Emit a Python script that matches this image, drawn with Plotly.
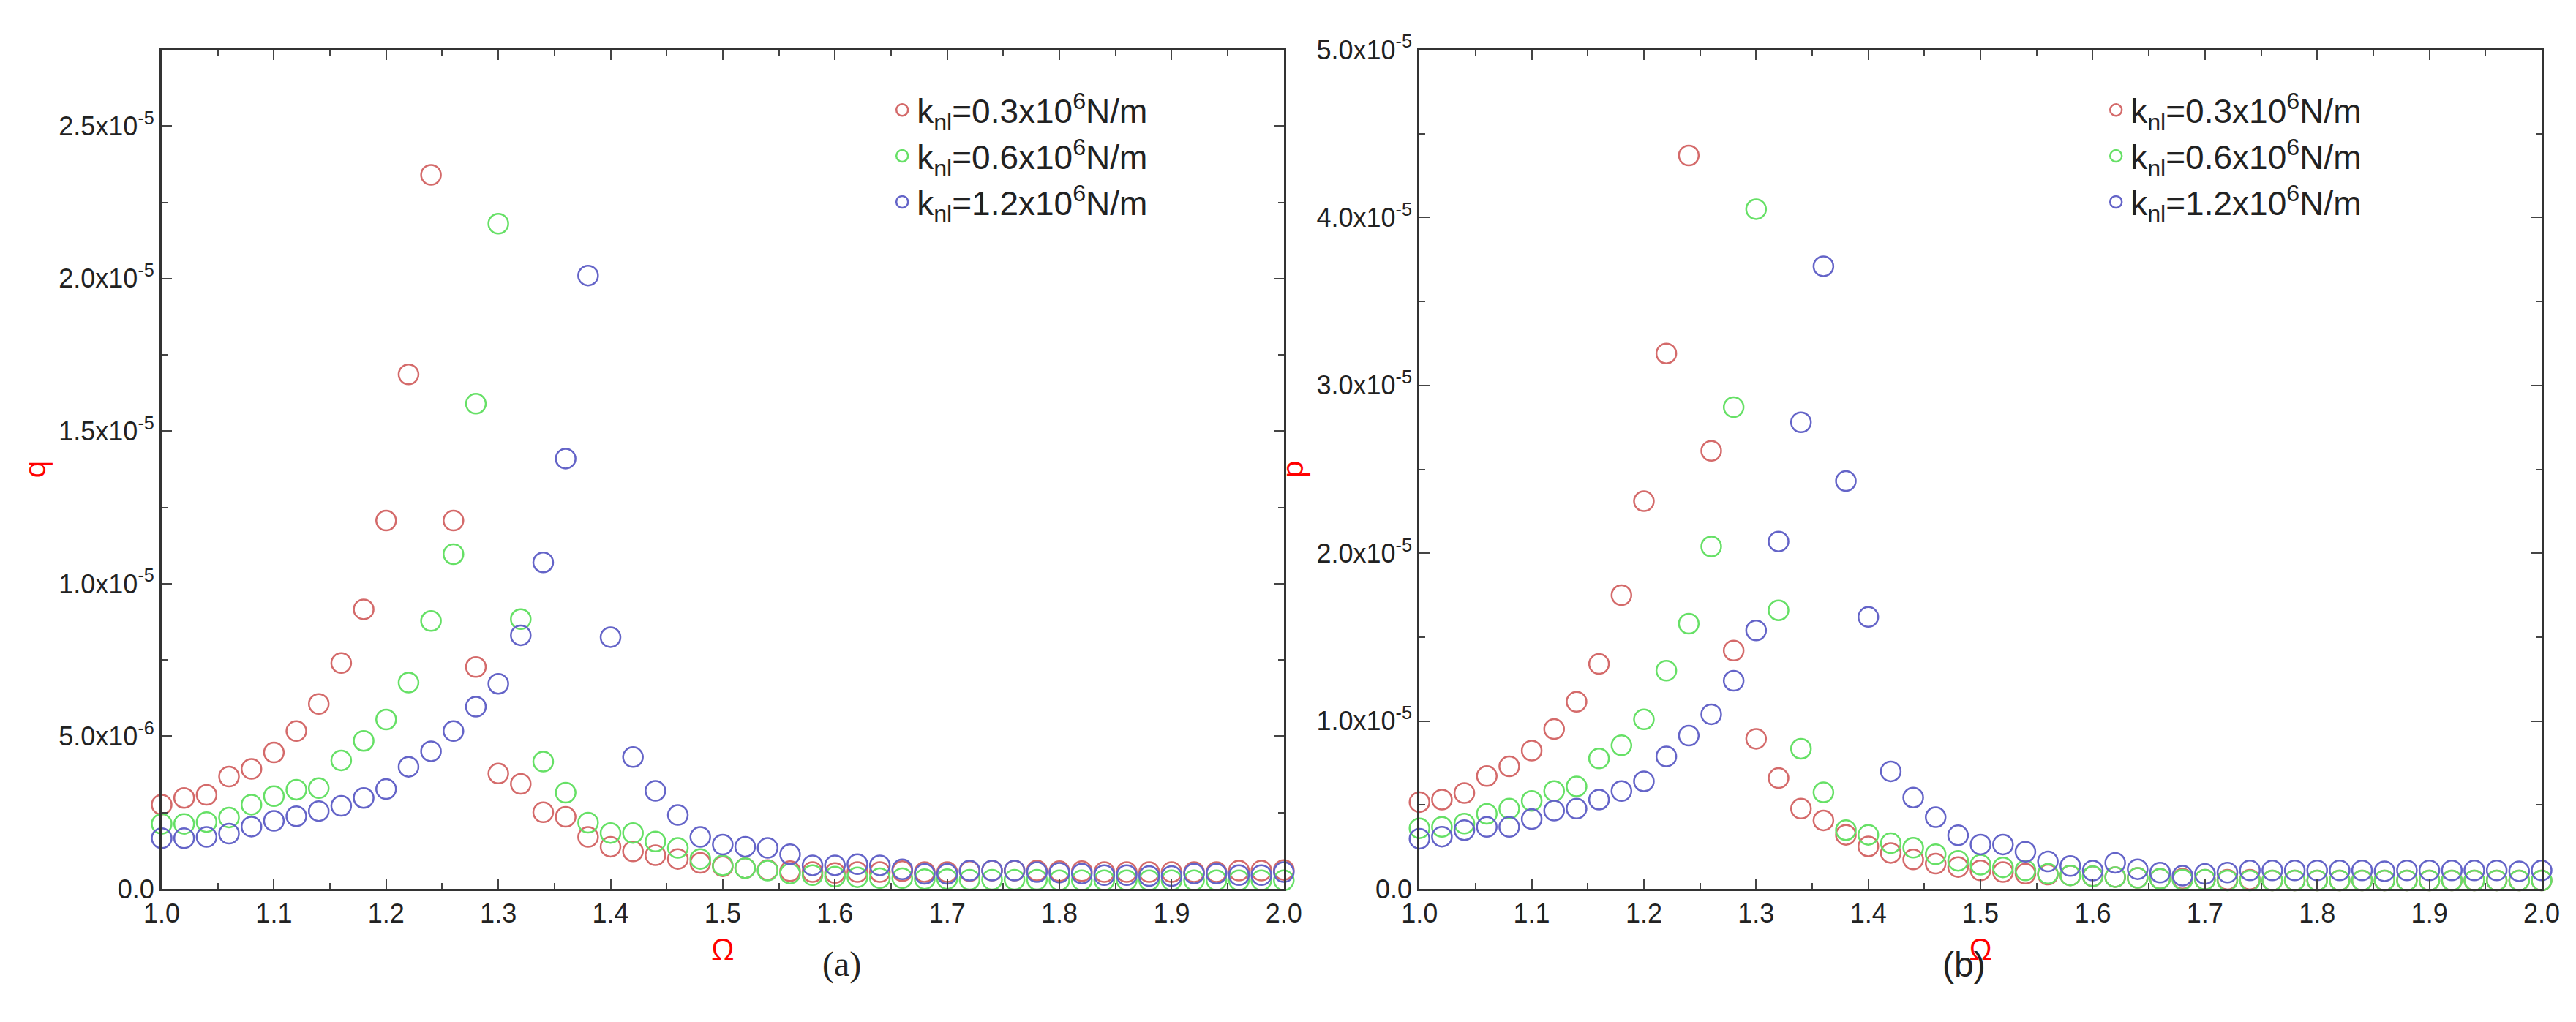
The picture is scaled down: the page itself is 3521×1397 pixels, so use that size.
import plotly.graph_objects as go
from plotly.subplots import make_subplots

omega = [round(1.0 + 0.02 * i, 2) for i in range(51)]

# panel (a): q, units 1e-6
q_red = [2.76, 2.98, 3.08, 3.68, 3.93, 4.47, 5.17, 6.06, 7.40, 9.16, 12.07, 16.86, 23.4, 12.07, 7.27,
         3.78, 3.44, 2.51, 2.36, 1.70, 1.38, 1.23, 1.10, 0.98, 0.85, 0.74, 0.68, 0.62, 0.58, 0.55,
         0.52, 0.55, 0.55, 0.58, 0.55, 0.55, 0.58, 0.6, 0.6, 0.6, 0.58, 0.58, 0.55, 0.55, 0.55, 0.55,
         0.55, 0.55, 0.6, 0.6, 0.62]
q_green = [2.13, 2.13, 2.19, 2.34, 2.76, 3.04, 3.25, 3.30, 4.21, 4.85, 5.55, 6.76, 8.78, 10.97, 15.9,
           21.8, 8.84, 4.17, 3.15, 2.17, 1.83, 1.83, 1.55, 1.34, 0.98, 0.77, 0.68, 0.6, 0.5, 0.45,
           0.4, 0.38, 0.35, 0.35, 0.32, 0.32, 0.3, 0.3, 0.3, 0.3, 0.28, 0.28, 0.28, 0.28, 0.28, 0.28,
           0.28, 0.28, 0.28, 0.28, 0.28]
q_blue = [1.66, 1.66, 1.70, 1.81, 2.04, 2.23, 2.38, 2.55, 2.72, 2.98, 3.27, 4.0, 4.51, 5.17, 5.97,
          6.72, 8.31, 10.7, 14.1, 20.1, 8.25, 4.32, 3.21, 2.42, 1.70, 1.45, 1.38, 1.34, 1.13, 0.77,
          0.77, 0.81, 0.77, 0.64, 0.49, 0.49, 0.6, 0.6, 0.6, 0.55, 0.53, 0.5, 0.45, 0.45, 0.42, 0.42,
          0.5, 0.5, 0.45, 0.45, 0.55]

# panel (b): p, units 1e-6
p_red = [5.17, 5.32, 5.71, 6.72, 7.30, 8.24, 9.52, 11.15, 13.4, 17.5, 23.1, 31.9, 43.7, 26.1, 14.2,
         8.94, 6.6, 4.78, 4.08, 3.22, 2.53, 2.14, 1.75, 1.5, 1.3, 1.1, 1.0, 0.9, 0.85, 0.8,
         0.75, 0.7, 0.65, 0.6, 0.6, 0.55, 0.55, 0.55, 0.5, 0.5, 0.5, 0.5, 0.5, 0.5, 0.5, 0.5,
         0.5, 0.5, 0.5, 0.5, 0.5]
p_green = [3.61, 3.69, 3.89, 4.47, 4.78, 5.24, 5.83, 6.1, 7.77, 8.55, 10.1, 13.0, 15.8, 20.4, 28.7,
           40.5, 16.6, 8.35, 5.75, 3.5, 3.22, 2.72, 2.45, 2.06, 1.67, 1.44, 1.28, 1.1, 0.9, 0.8,
           0.75, 0.7, 0.65, 0.6, 0.55, 0.55, 0.5, 0.5, 0.5, 0.5, 0.5, 0.5, 0.5, 0.5, 0.5, 0.5,
           0.5, 0.5, 0.5, 0.5, 0.5]
p_blue = [2.99, 3.11, 3.5, 3.69, 3.69, 4.16, 4.66, 4.78, 5.32, 5.83, 6.41, 7.89, 9.13, 10.4, 12.4,
          15.4, 20.7, 27.8, 37.1, 24.3, 16.2, 7.0, 5.44, 4.27, 3.19, 2.64, 2.64, 2.21, 1.63, 1.36,
          1.09, 1.55, 1.17, 0.97, 0.78, 0.89, 0.97, 1.1, 1.1, 1.1, 1.1, 1.1, 1.1, 1.05, 1.1, 1.1,
          1.1, 1.1, 1.1, 1.05, 1.1]

names = ["k<sub>nl</sub>=0.3x10<sup>6</sup>N/m",
         "k<sub>nl</sub>=0.6x10<sup>6</sup>N/m",
         "k<sub>nl</sub>=1.2x10<sup>6</sup>N/m"]
colors = ["#d46a6a", "#66e066", "#6464c8"]

fig = make_subplots(rows=1, cols=2, horizontal_spacing=0.057)

for col, series, leg in [(1, [q_red, q_green, q_blue], "legend"),
                         (2, [p_red, p_green, p_blue], "legend2")]:
    for name, color, vals in zip(names, colors, series):
        fig.add_trace(go.Scatter(
            x=omega, y=[v * 1e-6 for v in vals], mode="markers", name=name, legend=leg,
            marker=dict(symbol="circle-open", size=27, color=color, line=dict(width=2.5, color=color)),
            cliponaxis=False), row=1, col=col)

axis_font = dict(family="Liberation Sans, Arial", size=36, color="#222")
xticks = [1.0 + 0.1 * i for i in range(11)]
for col in (1, 2):
    fig.update_xaxes(range=[1.0, 2.0], tickvals=xticks, ticktext=["%.1f" % t for t in xticks],
                     ticks="inside", ticklen=14, tickwidth=2, mirror="allticks", showline=True,
                     linecolor="#333", linewidth=3, showgrid=False, zeroline=False, tickfont=axis_font,
                     minor=dict(ticks="inside", ticklen=8, dtick=0.05, tickwidth=2),
                     title=dict(text="Ω", font=dict(size=40, color="red"), standoff=0),
                     row=1, col=col)

q_ticks = [0, 5e-6, 1e-5, 1.5e-5, 2e-5, 2.5e-5]
q_text = ["0.0", "5.0x10<sup>-6</sup>", "1.0x10<sup>-5</sup>", "1.5x10<sup>-5</sup>",
          "2.0x10<sup>-5</sup>", "2.5x10<sup>-5</sup>"]
p_ticks = [0, 1e-5, 2e-5, 3e-5, 4e-5, 5e-5]
p_text = ["0.0", "1.0x10<sup>-5</sup>", "2.0x10<sup>-5</sup>", "3.0x10<sup>-5</sup>",
          "4.0x10<sup>-5</sup>", "5.0x10<sup>-5</sup>"]

fig.update_yaxes(range=[0, 2.75e-5], tickvals=q_ticks, ticktext=q_text,
                 minor=dict(ticks="inside", ticklen=8, dtick=2.5e-6, tickwidth=2),
                 title=dict(text="q", font=dict(size=40, color="red"), standoff=6), row=1, col=1)
fig.update_yaxes(range=[0, 5e-5], tickvals=p_ticks, ticktext=p_text,
                 minor=dict(ticks="inside", ticklen=8, dtick=5e-6, tickwidth=2),
                 title=dict(text="p", font=dict(size=40, color="red"), standoff=6), row=1, col=2)
fig.update_yaxes(ticks="inside", ticklen=14, tickwidth=2, mirror="allticks", showline=True,
                 linecolor="#333", linewidth=3, showgrid=False, zeroline=False, tickfont=axis_font)

legend_style = dict(font=dict(family="Liberation Sans, Arial", size=46, color="#222"),
                    bgcolor="rgba(0,0,0,0)", itemsizing="trace", tracegroupgap=14,
                    xanchor="left", yanchor="top")
fig.update_layout(
    width=3521, height=1397, plot_bgcolor="white", paper_bgcolor="white",
    margin=dict(l=213, r=55, t=60, b=190),
    legend=dict(x=0.305, y=0.96, **legend_style),
    legend2=dict(x=0.815, y=0.96, **legend_style),
    annotations=[
        dict(text="(a)", x=0.277, y=-0.115, xref="paper", yref="paper", showarrow=False,
             font=dict(family="Liberation Serif", size=48, color="#222")),
        dict(text="(b)", x=0.767, y=-0.115, xref="paper", yref="paper", showarrow=False,
             font=dict(family="Liberation Sans", size=48, color="#222")),
    ],
)

fig.write_html("out.html")
